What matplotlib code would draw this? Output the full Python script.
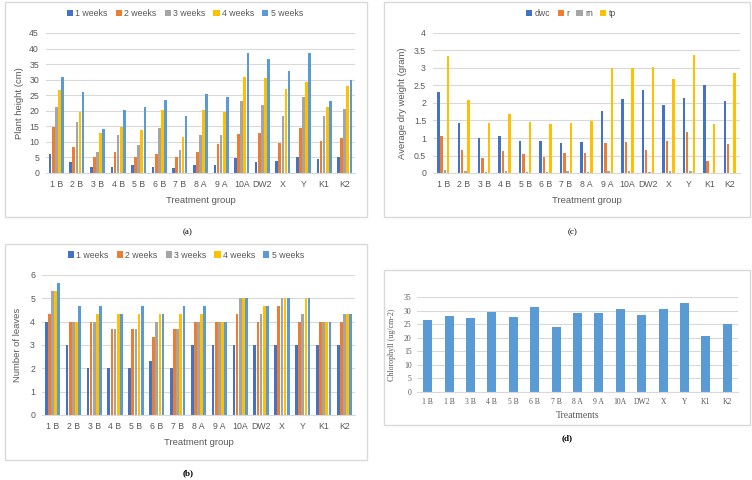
import numpy as np
import matplotlib
matplotlib.use("Agg")
import matplotlib.pyplot as plt
from matplotlib.patches import Rectangle
from matplotlib.ticker import FuncFormatter

groups = ["1 B", "2 B", "3 B", "4 B", "5 B", "6 B", "7 B", "8 A", "9 A",
          "10A", "DW2", "X", "Y", "K1", "K2"]
groups_d = ["1 B", "1 B", "3 B", "4 B", "5 B", "6 B", "7 B", "8 A", "9 A",
            "10A", "DW2", "X", "Y", "K1", "K2"]
weeks = ["1 weeks", "2 weeks", "3 weeks", "4 weeks", "5 weeks"]

# (a) plant height (cm)
height_w1 = [6.0, 3.4, 2.0, 2.0, 2.6, 2.0, 1.7, 2.7, 2.6, 4.7, 3.4, 4.0, 5.3, 4.4, 5.0]
height_w2 = [14.7, 8.3, 5.3, 6.7, 5.3, 6.0, 5.0, 6.7, 9.3, 12.6, 13.0, 9.6, 14.4, 10.2, 11.3]
height_w3 = [21.2, 16.3, 6.7, 12.3, 9.0, 14.4, 7.3, 12.3, 12.3, 23.2, 21.8, 18.3, 24.5, 18.3, 20.7]
height_w4 = [26.7, 19.7, 12.7, 14.7, 13.7, 20.3, 11.7, 20.3, 19.7, 31.0, 30.6, 27.0, 29.2, 21.2, 28.0]
height_w5 = [30.7, 26.0, 14.0, 20.4, 21.3, 23.6, 18.3, 25.3, 24.4, 38.7, 36.6, 32.7, 38.7, 23.0, 30.0]

# (b) number of leaves
leaves_w1 = [4, 3, 2, 2, 2, 2.33, 2, 3, 3, 3, 3, 3, 3, 3, 3]
leaves_w2 = [4.33, 4, 4, 3.67, 3.67, 3.33, 3.67, 4, 4, 4.33, 4, 4.67, 4, 4, 4]
leaves_w3 = [5.33, 4, 4, 3.67, 3.67, 4, 3.67, 4, 4, 5, 4.33, 5, 4.33, 4, 4.33]
leaves_w4 = [5.33, 4, 4.33, 4.33, 4.33, 4.33, 4.33, 4.33, 4, 5, 4.67, 5, 5, 4, 4.33]
leaves_w5 = [5.67, 4.67, 4.67, 4.33, 4.67, 4.33, 4.67, 4.67, 4, 5, 4.67, 5, 5, 4, 4.33]

# (c) average dry weight (gram)
dry_names = ["dwc", "r", "rn", "tp"]
dry_dwc = [2.3, 1.42, 1.0, 1.07, 0.92, 0.92, 0.85, 0.9, 1.78, 2.12, 2.38, 1.93, 2.13, 2.5, 2.05]
dry_r = [1.07, 0.66, 0.43, 0.62, 0.55, 0.46, 0.57, 0.58, 0.86, 0.89, 0.65, 0.92, 1.17, 0.35, 0.82]
dry_rn = [0.1, 0.05, 0.04, 0.05, 0.02, 0.04, 0.05, 0.02, 0.05, 0.07, 0.04, 0.07, 0.07, 0.0, 0.0]
dry_tp = [3.35, 2.09, 1.43, 1.69, 1.46, 1.39, 1.42, 1.49, 3.0, 3.0, 3.03, 2.69, 3.37, 1.39, 2.86]

# (d) chlorophyll (ug/cm-2)
chloro = [26.6, 28.1, 27.1, 29.4, 27.6, 31.4, 24.1, 29.0, 29.0, 30.6, 28.25, 30.6, 32.75, 20.75, 25.0]

colors = ["#4472C4", "#ED7D31", "#A5A5A5", "#FFC000", "#5B9BD5"]
txt = "#595959"
grid_c = "#D9D9D9"

W, H = 752, 480
plt.rcParams["font.family"] = "Liberation Sans"
fig = plt.figure(figsize=(W / 100, H / 100), dpi=100)


def ax_at(l, t, r, b):
    return fig.add_axes([l / W, 1 - b / H, (r - l) / W, (b - t) / H])


def frame(l, t, r, b):
    fig.patches.append(Rectangle((l / W, 1 - b / H), (r - l) / W, (b - t) / H,
                                 transform=fig.transFigure, fill=False,
                                 edgecolor=grid_c, lw=1.0))


def style(ax, fs=6.3, family=None):
    for s in ["top", "right", "left"]:
        ax.spines[s].set_visible(False)
    ax.spines["bottom"].set_color(grid_c)
    ax.tick_params(length=0, colors=txt, labelsize=fs, pad=5)
    ax.yaxis.grid(True, color=grid_c, lw=0.8)
    ax.set_axisbelow(True)
    if family:
        for lab in ax.get_xticklabels() + ax.get_yticklabels():
            lab.set_family(family)


def grouped(ax, series, names, step, width):
    x = np.arange(len(groups))
    n = len(series)
    for i, (vals, nm) in enumerate(zip(series, names)):
        ax.bar(x + (i - (n - 1) / 2) * step, vals, width, color=colors[i], label=nm)
    ax.set_xticks(x)
    ax.set_xticklabels(groups)
    ax.set_xlim(-0.5, len(groups) - 0.5)


fmt = FuncFormatter(lambda v, p: f"{v:g}")

# (a)
frame(5, 2, 367, 217)
ax = ax_at(46, 33, 355, 173)
grouped(ax, [height_w1, height_w2, height_w3, height_w4, height_w5], weeks, 0.15, 0.13)
ax.set_ylim(0, 45)
ax.set_yticks(np.arange(0, 46, 5))
style(ax)
ax.set_ylabel("Plant height (cm)", color=txt, fontsize=6.8, labelpad=4)
ax.set_xlabel("Treatment group", color=txt, fontsize=6.8, labelpad=5)
ax.legend(loc="center", bbox_to_anchor=(0.45, 1.0 + 19 / 140), ncol=5, frameon=False,
          fontsize=6.3, handlelength=0.7, handleheight=0.7, columnspacing=0.9,
          handletextpad=0.3, labelcolor=txt)
fig.text(188 / W, 1 - 232 / H, "(a)", ha="center", va="center", fontsize=6.5,
         family="Liberation Serif")

# (b)
frame(5, 244, 367, 460)
ax = ax_at(42, 275, 355, 415)
grouped(ax, [leaves_w1, leaves_w2, leaves_w3, leaves_w4, leaves_w5], weeks, 0.15, 0.13)
ax.set_ylim(0, 6)
ax.set_yticks(np.arange(0, 7, 1))
style(ax)
ax.set_ylabel("Number of leaves", color=txt, fontsize=6.8, labelpad=6)
ax.set_xlabel("Treatment group", color=txt, fontsize=6.8, labelpad=5)
ax.legend(loc="center", bbox_to_anchor=(0.46, 1.0 + 20 / 140), ncol=5, frameon=False,
          fontsize=6.3, handlelength=0.7, handleheight=0.7, columnspacing=0.9,
          handletextpad=0.3, labelcolor=txt)
fig.text(188 / W, 1 - 473 / H, "(b)", ha="center", va="center", fontsize=6.5,
         family="Liberation Serif", weight="bold")

# (c)
frame(384, 2, 750, 217)
ax = ax_at(433, 33, 740, 173)
grouped(ax, [dry_dwc, dry_r, dry_rn, dry_tp], dry_names, 0.16, 0.12)
ax.set_ylim(0, 4)
ax.set_yticks(np.arange(0, 4.01, 0.5))
ax.yaxis.set_major_formatter(fmt)
style(ax)
ax.set_ylabel("Average dry weight (gram)", color=txt, fontsize=6.8, labelpad=5)
ax.set_xlabel("Treatment group", color=txt, fontsize=6.8, labelpad=5)
ax.legend(loc="center", bbox_to_anchor=(0.45, 1.0 + 19 / 140), ncol=4, frameon=False,
          fontsize=6.3, handlelength=0.7, handleheight=0.7, columnspacing=0.8,
          handletextpad=0.3, labelcolor=txt)
fig.text(573 / W, 1 - 232 / H, "(c)", ha="center", va="center", fontsize=6.5,
         family="Liberation Serif")

# (d)
frame(384, 270, 750, 425)
ax = ax_at(417, 297, 738, 392)
xd = np.arange(len(groups_d))
ax.bar(xd, chloro, 0.42, color=colors[4])
ax.set_xticks(xd)
ax.set_xticklabels(groups_d)
ax.set_xlim(-0.5, len(groups_d) - 0.5)
ax.set_ylim(0, 35)
ax.set_yticks(np.arange(0, 36, 5))
style(ax, fs=5.5, family="Liberation Serif")
ax.tick_params(pad=4)
ax.set_ylabel("Chlorophyll (ug/cm-2)", color=txt, fontsize=5.8,
              family="Liberation Serif")
ax.yaxis.set_label_coords(-21 / 321, 0.5)
ax.set_xlabel("Treatments", color=txt, fontsize=7, labelpad=4,
              family="Liberation Serif")
fig.text(567 / W, 1 - 438 / H, "(d)", ha="center", va="center", fontsize=6.5,
         family="Liberation Serif", weight="bold")

fig.savefig("out.png", dpi=100)
